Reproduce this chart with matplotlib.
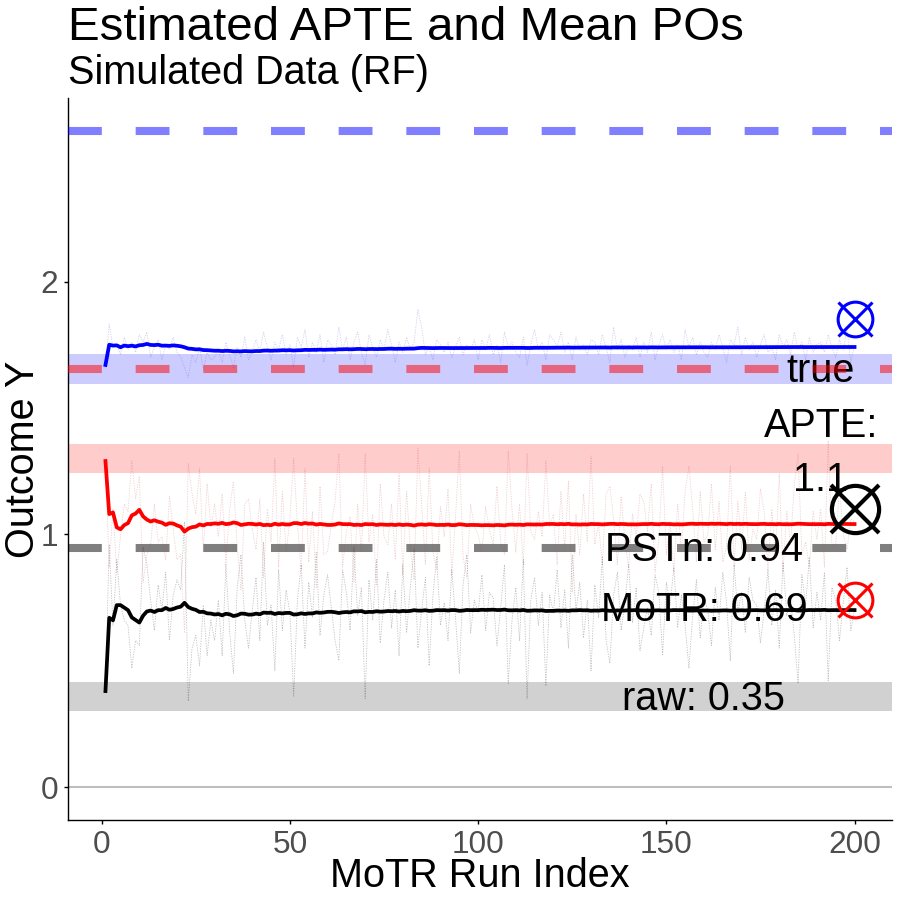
import numpy as np
import matplotlib.pyplot as plt

# per-run estimates (run 1..200)
treated = [
    1.67, 1.83, 1.74, 1.75, 1.71, 1.78, 1.73, 1.76, 1.72, 1.79,
    1.76, 1.80, 1.70, 1.74, 1.77, 1.69, 1.75, 1.73, 1.78, 1.72,
    1.70, 1.66, 1.62, 1.71, 1.68, 1.74, 1.65, 1.72, 1.69, 1.70,
    1.73, 1.68, 1.76, 1.71, 1.66, 1.74, 1.70, 1.78, 1.69, 1.72,
    1.77, 1.72, 1.80, 1.74, 1.69, 1.76, 1.73, 1.79, 1.71, 1.75,
    1.66, 1.78, 1.74, 1.81, 1.70, 1.76, 1.72, 1.79, 1.68, 1.77,
    1.75, 1.71, 1.82, 1.73, 1.78, 1.69, 1.76, 1.80, 1.72, 1.67,
    1.79, 1.74, 1.70, 1.77, 1.73, 1.81, 1.75, 1.68, 1.76, 1.72,
    1.78, 1.73, 1.76, 1.89, 1.82, 1.71, 1.74, 1.69, 1.77, 1.75,
    1.72, 1.76, 1.70, 1.74, 1.78, 1.71, 1.75, 1.73, 1.77, 1.69,
    1.77, 1.73, 1.79, 1.71, 1.75, 1.68, 1.80, 1.74, 1.76, 1.72,
    1.70, 1.78, 1.67, 1.75, 1.81, 1.73, 1.76, 1.69, 1.79, 1.77,
    1.74, 1.80, 1.72, 1.76, 1.69, 1.78, 1.73, 1.75, 1.71, 1.77,
    1.76, 1.71, 1.79, 1.74, 1.68, 1.82, 1.73, 1.77, 1.70, 1.75,
    1.73, 1.78, 1.70, 1.76, 1.72, 1.80, 1.69, 1.75, 1.79, 1.73,
    1.77, 1.72, 1.75, 1.69, 1.81, 1.74, 1.78, 1.71, 1.76, 1.72,
    1.70, 1.76, 1.73, 1.79, 1.74, 1.68, 1.77, 1.75, 1.82, 1.71,
    1.78, 1.73, 1.76, 1.70, 1.75, 1.79, 1.72, 1.74, 1.69, 1.79,
    1.74, 1.77, 1.71, 1.80, 1.73, 1.76, 1.69, 1.78, 1.72, 1.75,
    1.76, 1.72, 1.79, 1.74, 1.70, 1.77, 1.73, 1.81, 1.68, 1.75,
]
control = [
    0.38, 0.96, 0.64, 0.90, 0.72, 0.66, 0.64, 0.47, 0.58, 0.56,
    0.95, 0.88, 0.74, 0.62, 0.80, 0.70, 0.85, 0.58, 0.76, 0.82,
    0.78, 1.05, 0.34, 0.55, 0.60, 0.48, 0.72, 0.52, 0.66, 0.58,
    0.74, 0.52, 0.88, 0.61, 0.45, 0.79, 0.92, 0.66, 0.55, 0.70,
    0.83, 0.58, 0.97, 0.64, 0.72, 0.46, 0.86, 0.62, 0.78, 0.69,
    0.36, 0.74, 0.88, 0.55, 0.81, 0.67, 0.93, 0.60, 0.76, 0.84,
    0.71, 0.58, 0.50, 0.86, 0.77, 0.62, 0.95, 0.68, 0.79, 0.35,
    0.82, 0.66, 0.90, 0.57, 0.74, 0.85, 0.63, 0.78, 0.52, 0.88,
    0.61, 0.79, 0.94, 0.55, 0.70, 0.83, 0.48, 0.76, 0.91, 0.64,
    0.73, 0.58, 0.86, 0.67, 0.45, 0.80, 0.92, 0.61, 0.74, 0.69,
    0.84, 0.62, 0.77, 0.75, 0.56, 0.71, 0.88, 0.41, 0.66, 0.79,
    0.58, 0.90, 0.35, 0.74, 0.83, 0.64, 0.77, 0.40, 0.76, 0.69,
    0.86, 0.63, 0.78, 0.55, 0.92, 0.70, 0.81, 0.59, 0.74, 0.46,
    0.80, 0.67, 0.91, 0.58, 0.49, 0.76, 0.85, 0.62, 0.73, 0.88,
    0.65, 0.79, 0.54, 0.63, 0.71, 0.60, 0.84, 0.77, 0.52, 0.81,
    0.72, 0.87, 0.63, 0.76, 0.64, 0.47, 0.68, 0.82, 0.59, 0.75,
    0.70, 0.56, 0.79, 0.66, 0.85, 0.73, 0.50, 0.88, 0.69, 0.77,
    0.61, 0.83, 0.74, 0.72, 0.57, 0.70, 0.86, 0.64, 0.78, 0.55,
    0.89, 0.68, 0.75, 0.60, 0.41, 0.84, 0.72, 0.91, 0.63, 0.77,
    0.66, 0.85, 0.42, 0.79, 0.74, 0.58, 0.73, 0.87, 0.62, 0.70,
]

# reference lines and bands
blue_dash = 2.596
red_dash = 1.653
gray_dash = 0.945
blue_band = (1.594, 1.712)
red_band = (1.243, 1.357)
gray_band = (0.300, 0.414)

# true values shown as markers at the last run
true_treated = 1.85
true_control = 0.74
true_apte = 1.10

label_apte = "true\nAPTE:\n1.1"
label_pstn = "PSTn: 0.94"
label_motr = "MoTR: 0.69"
label_raw = "raw: 0.35"
pstn_val = 0.94
motr_val = 0.70
raw_val = 0.35

plt.rcParams['font.family'] = ['Liberation Sans', 'DejaVu Sans']

treated = np.array(treated)
control = np.array(control)
runs = np.arange(1, len(treated) + 1)
diff = treated - control
cm_t = np.cumsum(treated) / runs
cm_c = np.cumsum(control) / runs
cm_d = np.cumsum(diff) / runs

fig = plt.figure(figsize=(9, 9), dpi=100)
ax = fig.add_axes([68 / 900, 80 / 900, 824 / 900, 722 / 900])

# bands
ax.axhspan(*blue_band, color='blue', alpha=0.2, lw=0, zorder=1)
ax.axhspan(*red_band, color='red', alpha=0.2, lw=0, zorder=1)
ax.axhspan(*gray_band, color='black', alpha=0.18, lw=0, zorder=1)
ax.axhline(0, color='#bebebe', lw=1.5, zorder=1.5)

# labels
txt = dict(fontsize=28.5, ha='center', va='center', color='black', zorder=2)
ax.text(191, 1.43, label_apte, linespacing=1.55, **txt)
ax.text(160, pstn_val, label_pstn, **txt)
ax.text(160, motr_val, label_motr, **txt)
ax.text(160, raw_val, label_raw, **txt)

# dashed reference lines
dash = dict(lw=5.8, dashes=(4.2, 4.2), alpha=0.5, zorder=3, solid_capstyle='butt', dash_capstyle='butt')
ax.axhline(blue_dash, color='blue', **dash)
ax.axhline(red_dash, color='red', **dash)
ax.axhline(gray_dash, color='black', **dash)

# per-run estimates
dot = dict(lw=0.6, ls=(0, (1.5, 1.5)), alpha=0.25, zorder=3.5)
ax.plot(runs, treated, color='#4040c0', **dot)
ax.plot(runs, diff, color='#c04040', **dot)
ax.plot(runs, control, color='black', **dot)

# running means
ax.plot(runs, cm_t, color='blue', lw=2.7, zorder=4)
ax.plot(runs, cm_d, color='red', lw=2.7, zorder=4)
ax.plot(runs, cm_c, color='black', lw=2.7, zorder=4)

# true value markers
last = runs[-1]
for y, c, ms, mew in [(true_treated, 'blue', 25, 2.2), (true_control, 'red', 25, 2.2),
                      (true_apte, 'black', 34, 3.0)]:
    ax.plot(last, y, marker='o', mfc='none', mec=c, ms=ms, mew=mew, zorder=5)
    ax.plot(last, y, marker='x', color=c, ms=ms, mew=mew, zorder=5)

ax.set_xlim(-8.95, 209.95)
ax.set_ylim(-0.13, 2.726)
ax.set_xticks([0, 50, 100, 150, 200])
ax.set_yticks([0, 1, 2])
ax.tick_params(labelsize=22.8, labelcolor='#4d4d4d', length=3, width=1, pad=4)
for s in ['top', 'right']:
    ax.spines[s].set_visible(False)
for s in ['left', 'bottom']:
    ax.spines[s].set_linewidth(1.0)

fig.text(68 / 900, 1 - 39.5 / 900, "Estimated APTE and Mean POs", fontsize=34.2, ha='left', va='baseline')
fig.text(68 / 900, 1 - 84 / 900, "Simulated Data (RF)", fontsize=28.5, ha='left', va='baseline')
fig.text(480 / 900, 1 - 887 / 900, "MoTR Run Index", fontsize=28.5, ha='center', va='baseline')
fig.text(34 / 900, 1 - 459 / 900, "Outcome Y", fontsize=28.5, ha='center', va='baseline',
         rotation=90, rotation_mode='anchor')

fig.savefig("out.png", dpi=100)
